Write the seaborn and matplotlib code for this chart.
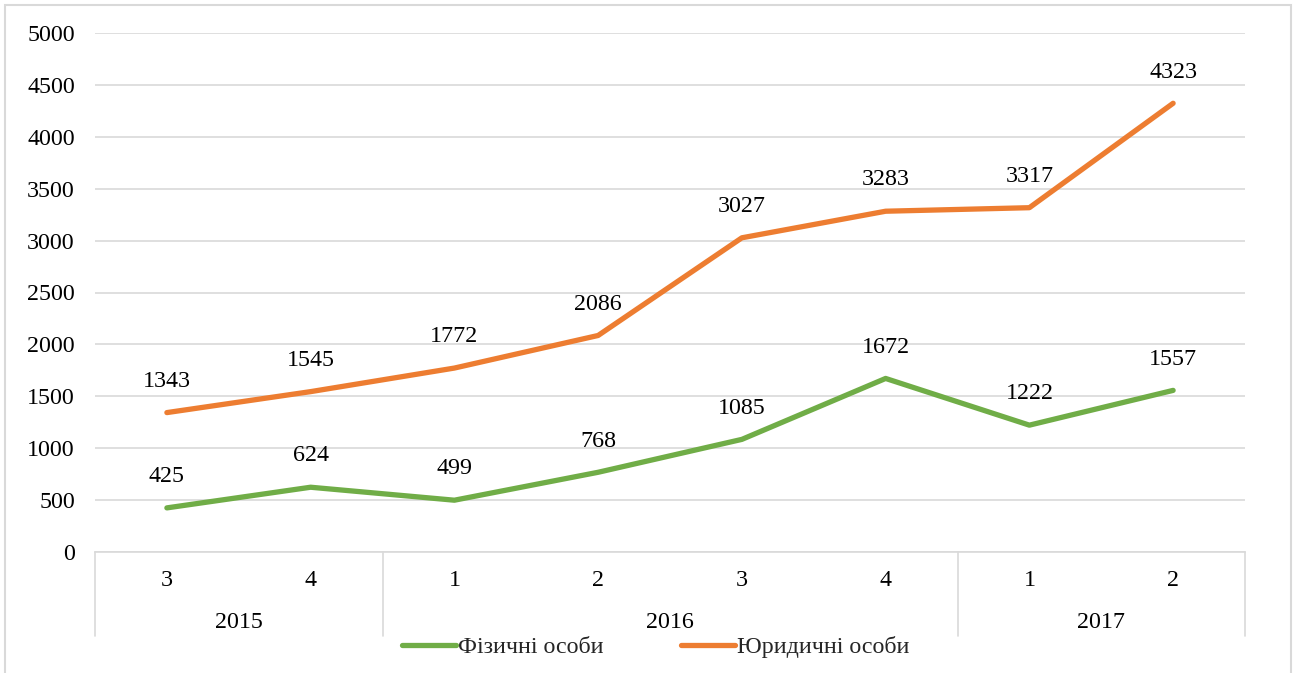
import matplotlib
matplotlib.use("Agg")
import matplotlib.pyplot as plt
import matplotlib.transforms as mtransforms
from matplotlib.patches import Rectangle
import seaborn as sns
import pandas as pd

# Quarterly figures, 2015 Q3 – 2017 Q2
quarters = ["3", "4", "1", "2", "3", "4", "1", "2"]
years = ["2015", "2016", "2017"]
year_spans = [(0, 1), (2, 5), (6, 7)]
individuals = [425, 624, 499, 768, 1085, 1672, 1222, 1557]
legal_entities = [1343, 1545, 1772, 2086, 3027, 3283, 3317, 4323]
series_names = ["Фізичні особи", "Юридичні особи"]
colors = ["#70AD47", "#ED7D31"]

sns.set_theme(style="white")
plt.rcParams["font.family"] = ["Liberation Serif", "DejaVu Serif"]

FS = 17.3
W, H = 1297, 673
fig = plt.figure(figsize=(W / 100, H / 100), dpi=100)
ax = fig.add_axes([95 / W, 1 - 552 / H, (1245 - 95) / W, (552 - 33) / H])

n = len(quarters)
df = pd.DataFrame({
    "pos": list(range(n)) * 2,
    "value": individuals + legal_entities,
    "series": [series_names[0]] * n + [series_names[1]] * n,
})
sns.lineplot(data=df, x="pos", y="value", hue="series", palette=colors,
             linewidth=3.8, ax=ax, legend=True, zorder=3,
             solid_capstyle="round", solid_joinstyle="round")

# value labels above each point
for vals in (individuals, legal_entities):
    for i, v in enumerate(vals):
        ax.annotate(str(v), (i, v), xytext=(0, 22.5), textcoords="offset points",
                    ha="center", va="center", fontsize=FS, color="#000000")

ax.set_xlim(-0.5, n - 0.5)
ax.set_ylim(0, 5000)
ax.set_yticks(range(0, 5001, 500))
ax.tick_params(axis="y", length=0, pad=14.5, labelsize=FS, labelcolor="#000000")
ax.set_xticks([])
ax.set_xlabel("")
ax.set_ylabel("")
ax.grid(axis="y", color="#D9D9D9", linewidth=1.2)
for side in ("top", "right", "left"):
    ax.spines[side].set_visible(False)
ax.spines["bottom"].set_color("#D9D9D9")
ax.spines["bottom"].set_linewidth(1.2)

# two-level category axis: quarters and years
trans = mtransforms.blended_transform_factory(ax.transData, ax.transAxes)
ax_h = 552 - 33
for i, q in enumerate(quarters):
    ax.text(i, -28 / ax_h, q, transform=trans, ha="center", va="center",
            fontsize=FS, color="#000000")
for label, (a, b) in zip(years, year_spans):
    ax.text((a + b) / 2, -70 / ax_h, label, transform=trans, ha="center",
            va="center", fontsize=FS, color="#000000")
for xs in [-0.5, 1.5, 5.5, n - 0.5]:
    ax.plot([xs, xs], [0, -84 / ax_h], transform=trans, color="#D9D9D9",
            linewidth=1.2, clip_on=False)

handles, labels = ax.get_legend_handles_labels()
for h in handles:
    h.set_linewidth(3.8)
    h.set_solid_capstyle("round")
leg = ax.legend(handles, labels, loc="center", bbox_to_anchor=(655.5 / W, 1 - 647 / H),
                bbox_transform=fig.transFigure, ncol=2, frameon=False,
                fontsize=FS, handlelength=2.25, handletextpad=0.1,
                columnspacing=3.2)

# outer chart border
fig.patches.append(Rectangle((5 / W, -0.01), (1291 - 5) / W, 1 - 5 / H + 0.01,
                             transform=fig.transFigure, fill=False,
                             edgecolor="#D9D9D9", linewidth=1.5))

fig.savefig("out.png", dpi=100)
